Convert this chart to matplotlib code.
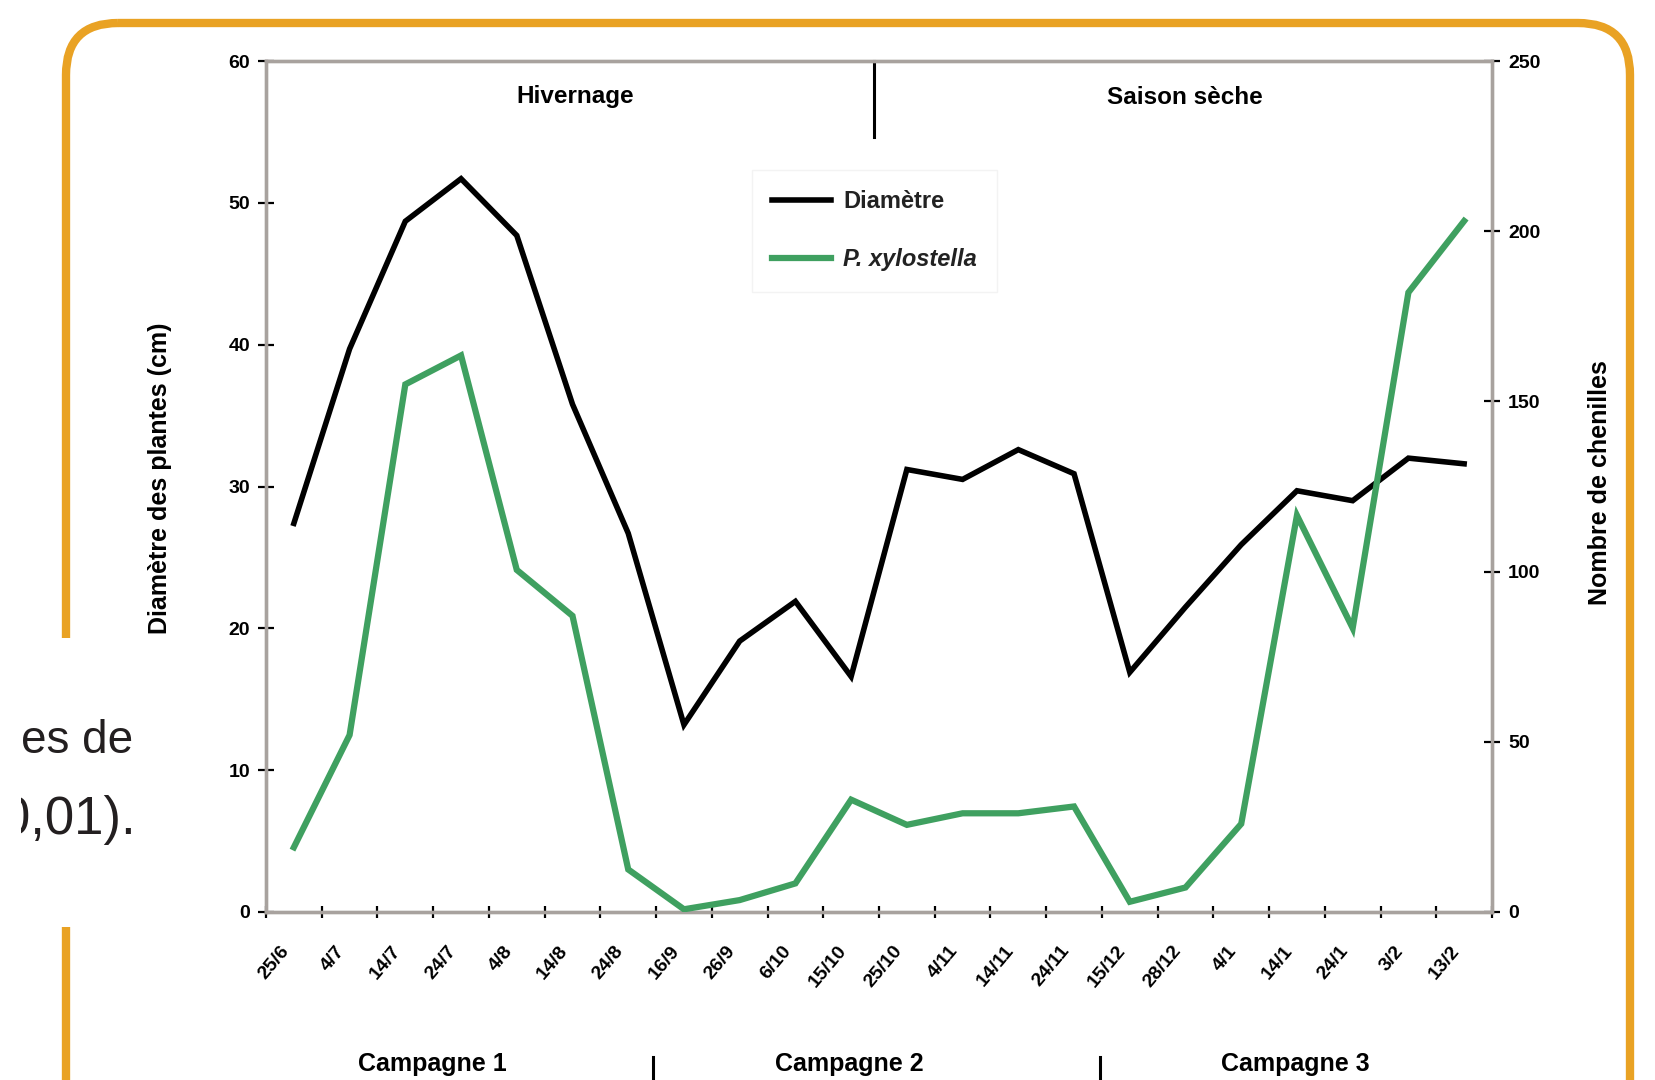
import matplotlib
matplotlib.use("Agg")
import matplotlib.pyplot as plt
from matplotlib import font_manager
from matplotlib.patches import FancyBboxPatch, Rectangle
from matplotlib.transforms import ScaledTranslation

# ---------------- data ----------------
dates = ["25/6", "4/7", "14/7", "24/7", "4/8", "14/8", "24/8", "16/9", "26/9", "6/10",
         "15/10", "25/10", "4/11", "14/11", "24/11", "15/12", "28/12", "4/1", "14/1",
         "24/1", "3/2", "13/2"]
diametre = [27.4, 39.7, 48.7, 51.7, 47.7, 35.8, 26.7, 13.2, 19.1, 21.9, 16.6, 31.2,
            30.5, 32.6, 30.9, 16.9, 21.5, 25.9, 29.7, 29.0, 32.0, 31.6]
xylostella = [19, 52, 155, 163.5, 100.5, 87, 12.5, 0.8, 3.5, 8.4, 33, 25.6, 29, 29,
              31, 3, 7.2, 25.9, 116.5, 83.4, 182, 203]
left_ticks = [0, 10, 20, 30, 40, 50, 60]
right_ticks = [0, 50, 100, 150, 200, 250]
seasons = ["Hivernage", "Saison sèche"]
campagnes = ["Campagne 1", "Campagne 2", "Campagne 3"]

# ---------------- fonts ----------------
names = {f.name for f in font_manager.fontManager.ttflist}
narrow = "Liberation Sans Narrow" if "Liberation Sans Narrow" in names else "Liberation Sans"
plt.rcParams["font.family"] = ["Liberation Sans", "DejaVu Sans"]

W, H = 1655, 1080
fig = plt.figure(figsize=(W / 100, H / 100), dpi=100)
fig.patch.set_facecolor("white")

def fx(x):
    return x / W

def fy(y):
    return 1 - y / H

# background axes in pixel coordinates (for frame / decorations)
bg = fig.add_axes([0, 0, 1, 1], zorder=0)
bg.set_xlim(0, W)
bg.set_ylim(H, 0)
bg.axis("off")

orange = "#E9A224"
frame = FancyBboxPatch((66, 23), 1630 - 66, 1200, boxstyle="round,pad=0,rounding_size=52",
                       facecolor="none", edgecolor=orange, linewidth=6)
bg.add_patch(frame)
bg.add_patch(Rectangle((50, 638), 40, 927 - 638, facecolor="white", edgecolor="none", zorder=3))

# partial caption text at left (cropped at its left edge)
bg.text(133, 741, "es de", fontsize=33, family=["Liberation Sans", "DejaVu Sans"],
        color="#231f20", ha="right", va="center", zorder=4)
bg.text(136, 820, "0,01).", fontsize=38, family=["Liberation Sans", "DejaVu Sans"],
        color="#231f20", ha="right", va="center", zorder=4)
bg.add_patch(Rectangle((0, 785), 21, 80, facecolor="white", edgecolor="none", zorder=5))

# season separator / campaign separators
bg.plot([874, 874], [61, 137], color="black", lw=2.2, zorder=5)
bg.plot([653, 653], [1057, 1080], color="black", lw=2.2)
bg.plot([1100, 1100], [1057, 1080], color="black", lw=2.2)

# ---------------- main axes ----------------
L, R, T, B = 266, 1492, 61, 912
ax = fig.add_axes([fx(L), fy(B), (R - L) / W, (B - T) / H], zorder=2)
ax.set_facecolor("none")
ax2 = ax.twinx()

n = len(dates)
xs = [i + 0.5 for i in range(n)]
l1, = ax.plot(xs, diametre, color="black", lw=4.0, solid_joinstyle="miter", zorder=3)
l2, = ax2.plot(xs, xylostella, color="#3fa060", lw=4.5, solid_joinstyle="miter", zorder=3)

ax.set_xlim(0, n)
ax.set_ylim(0, 60)
ax2.set_ylim(0, 250)

spine_c = "#a8a29e"
for a in (ax, ax2):
    for s in a.spines.values():
        s.set_color(spine_c)
        s.set_linewidth(2.4)

ax.set_xticks(range(n + 1))
ax.set_xticklabels([])
ax.set_xticks(xs, minor=True)
ax.set_xticklabels(dates, minor=True, rotation=50, ha="right", rotation_mode="anchor",
                   fontsize=14, fontweight="bold", family=narrow)
ax.tick_params(axis="x", which="major", direction="inout", length=9, width=1.6, color="black")
ax.tick_params(axis="x", which="minor", length=0, pad=22)
shift = ScaledTranslation(-14 / 100, 0, fig.dpi_scale_trans)
for lab in ax.get_xticklabels(minor=True):
    lab.set_transform(lab.get_transform() + shift)

ax.set_yticks(left_ticks)
ax.set_yticklabels([str(v) for v in left_ticks], fontsize=14, fontweight="bold", family=narrow)
ax.tick_params(axis="y", direction="inout", length=11, width=1.6, color="black", pad=6)

ax2.set_yticks(right_ticks)
ax2.set_yticklabels([str(v) for v in right_ticks], fontsize=14, fontweight="bold", family=narrow)
ax2.tick_params(axis="y", direction="inout", length=11, width=1.6, color="black", pad=6)

# axis titles
fig.text(fx(160), fy(478), "Diamètre des plantes (cm)", rotation=90, ha="center", va="center",
         fontsize=18, fontweight="bold", family=narrow)
fig.text(fx(1600), fy(483), "Nombre de chenilles", rotation=90, ha="center", va="center",
         fontsize=18, fontweight="bold", family=narrow)

# season labels
fig.text(fx(575), fy(97), seasons[0], ha="center", va="center", fontsize=17.5,
         fontweight="bold", family=narrow)
fig.text(fx(1185), fy(97), seasons[1], ha="center", va="center", fontsize=17.5,
         fontweight="bold", family=narrow)

# campaign labels
for cx, lab in zip([432, 849, 1295], campagnes):
    fig.text(fx(cx), fy(1064), lab, ha="center", va="center", fontsize=18,
             fontweight="bold", family=narrow)

# legend
leg = ax2.legend([l1, l2], ["Diamètre", "P. xylostella"], loc="upper left",
                 bbox_to_anchor=(fx(752), fy(170)), bbox_transform=fig.transFigure,
                 fontsize=17, frameon=True, fancybox=False, borderaxespad=0,
                 borderpad=0.85, handlelength=2.5, handletextpad=0.5, labelspacing=1.5)
leg.get_frame().set_edgecolor("#f0f0f0")
leg.get_frame().set_linewidth(1.0)
for t in leg.get_texts():
    t.set_fontweight("bold")
    t.set_color("#222222")
leg.get_texts()[1].set_style("italic")

fig.savefig("out.png", dpi=100)
